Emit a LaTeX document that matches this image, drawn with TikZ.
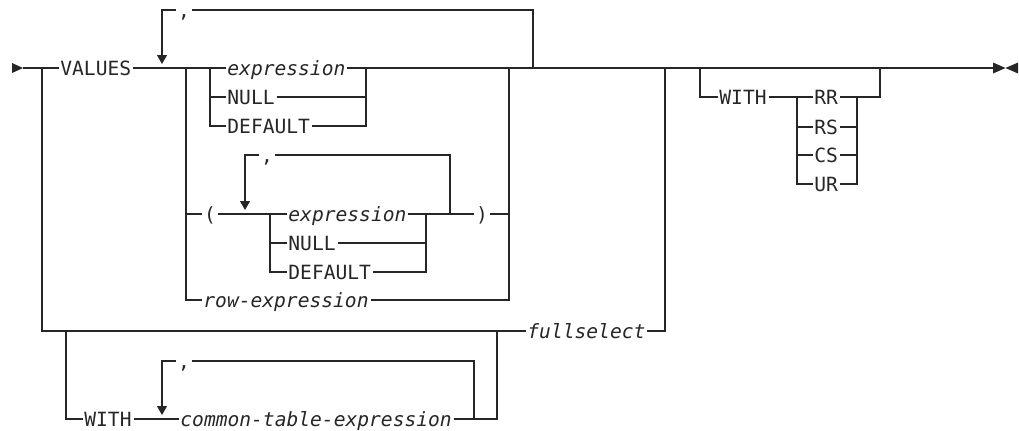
\documentclass[tikz,border=0pt]{standalone}
\usepackage{fontspec}
\newfontfamily\synfont{DejaVu Sans Mono}
\usetikzlibrary{arrows.meta}

\begin{document}
\begin{tikzpicture}[x=0.75pt,y=-0.75pt,color=black!85,line width=0.85pt,
  kw/.style={font=\synfont\fontsize{14.7}{17}\selectfont,inner xsep=1pt,inner ysep=0pt,
    text height=10.7pt,text depth=0pt,anchor=west},
  var/.style={kw,font=\synfont\itshape\fontsize{14.7}{17}\selectfont},
  sep/.style={kw,anchor=center},
  rep/.style={-{Triangle[width=7.5pt,length=6.75pt]}}]
  \useasboundingbox (0,0) rectangle (1019,430); % 図全体の大きさ
  % 語句のノード
  \node[kw] (values) at (58.5,68) {VALUES}; % 先頭のキーワード
  \node[var] (expr1) at (225.5,68) {expression}; % 1つ目の式
  \node[kw] (null1) at (225.5,97) {NULL};
  \node[kw] (dflt1) at (225.5,126) {DEFAULT};
  \node[sep] (c1) at (184,10) {,}; % 繰り返しの区切り
  \node[sep] (lp) at (210,214) {(}; % 左かっこ
  \node[sep] (c2) at (267,155) {,};
  \node[var] (expr2) at (286.5,214) {expression}; % かっこ内の式
  \node[kw] (null2) at (286.5,243) {NULL};
  \node[kw] (dflt2) at (286.5,272) {DEFAULT};
  \node[sep] (rp) at (482,214) {)}; % 右かっこ
  \node[var] (rowx) at (201.5,300) {row-expression};
  \node[var] (fsel) at (525.5,331) {fullselect};
  \node[kw] (with1) at (82.5,419) {WITH};
  \node[sep] (c3) at (184,361) {,};
  \node[var] (cte) at (178.5,419) {common-table-expression};
  \node[kw] (with2) at (717.5,97) {WITH}; % 分離レベルの指定
  \node[kw] (rr) at (812.5,97) {RR};
  \node[kw] (rs) at (812.5,127) {RS};
  \node[kw] (cs) at (812.5,155) {CS};
  \node[kw] (ur) at (812.5,184) {UR};
  % 分岐点と合流点
  \coordinate (start) at (23,68);
  \coordinate (stop) at (993,68);
  \coordinate (bL) at (42,68);
  \coordinate (bW) at (66,331);
  \coordinate (jW) at (497,331);
  \coordinate (jF) at (665,68);
  \coordinate (b1) at (186,68);
  \coordinate (b2) at (210,68);
  \coordinate (j1) at (366,68);
  \coordinate (b3) at (270,214);
  \coordinate (j2) at (426,214);
  \coordinate (j3) at (509,68);
  \coordinate (b4) at (700,68);
  \coordinate (b5) at (797,97);
  \coordinate (j5) at (857,97);
  \coordinate (j4) at (880,68);
  \coordinate (l1r) at (533,68); \coordinate (l1a) at (162,64); % 繰り返し1
  \coordinate (l2r) at (450,214); \coordinate (l2a) at (245,210); % 繰り返し2
  \coordinate (l3r) at (474,419); \coordinate (l3a) at (162,415); % 繰り返し3
  % 始点と終点の印
  \fill (12,63) -- (start) -- (12,73) -- cycle;
  \fill (993,62.5) -- (1005.5,68) -- (993,73.5) -- cycle;
  \fill (1018,62.5) -- (1005.5,68) -- (1018,73.5) -- cycle;
  % 主線
  \draw (start) -- (values.west);
  \draw (values.east) -- (expr1.west);
  \draw (expr1.east) -- (stop);
  % VALUES の選択肢
  \draw (b2) |- (dflt1.west);
  \draw (null1.west -| b2) -- (null1.west);
  \draw (null1.east) -| (j1);
  \draw (dflt1.east) -| (j1);
  \draw (b1) |- (rowx.west);
  \draw (lp.west -| b1) -- (lp.west);
  \draw (lp.east) -- (expr2.west);
  \draw (b3) |- (dflt2.west);
  \draw (null2.west -| b3) -- (null2.west);
  \draw (null2.east) -| (j2);
  \draw (dflt2.east) -| (j2);
  \draw (expr2.east) -- (rp.west);
  \draw (rp.east) -| (j3);
  \draw (rowx.east) -| (j3);
  \draw (l1r) |- (c1.east);
  \draw[rep] (c1.west) -| (l1a);
  \draw (l2r) |- (c2.east);
  \draw[rep] (c2.west) -| (l2a);
  % fullselect の経路
  \draw (bL) |- (fsel.west);
  \draw (fsel.east) -| (jF);
  \draw (bW) |- (with1.west);
  \draw (with1.east) -- (cte.west);
  \draw (cte.east) -| (jW);
  \draw (l3r) |- (c3.east);
  \draw[rep] (c3.west) -| (l3a);
  % WITH の選択肢
  \draw (b4) |- (with2.west);
  \draw (with2.east) -- (rr.west);
  \draw (b5) |- (ur.west);
  \draw (rs.west -| b5) -- (rs.west);
  \draw (cs.west -| b5) -- (cs.west);
  \draw (rr.east) -| (j4);
  \draw (rs.east) -| (j5);
  \draw (cs.east) -| (j5);
  \draw (ur.east) -| (j5);
\end{tikzpicture}
\end{document}
